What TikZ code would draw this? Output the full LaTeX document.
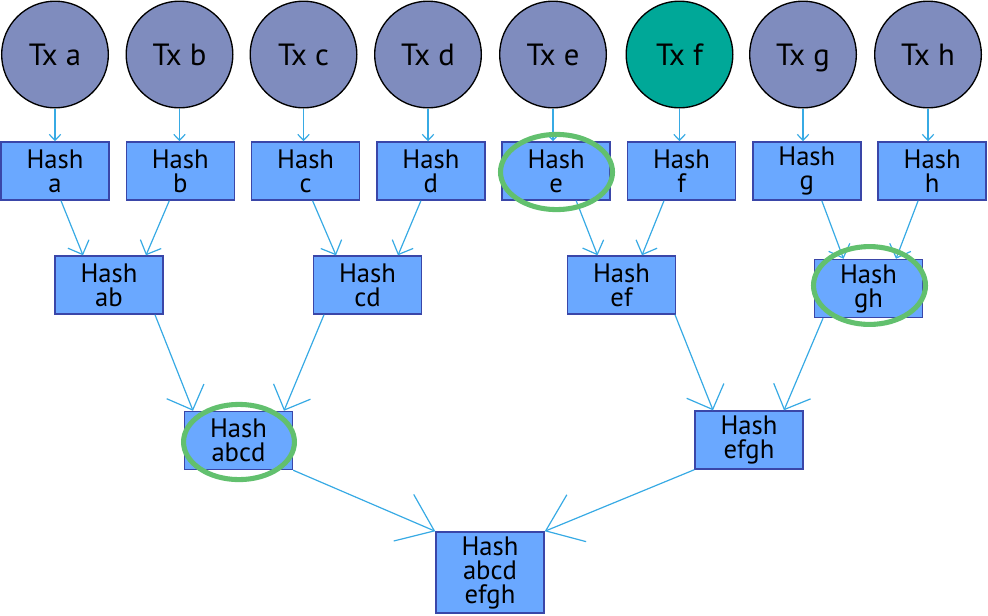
\documentclass[tikz,border=0pt]{standalone}
\usepackage{fontspec}
\setmainfont{PT Sans}
\usetikzlibrary{arrows.meta,calc}
\definecolor{txfill}{RGB}{127,140,190}
\definecolor{txteal}{RGB}{0,168,152}
\definecolor{boxfill}{RGB}{106,168,255}
\definecolor{boxline}{RGB}{58,70,168}
\definecolor{arrcol}{RGB}{55,170,228}
\definecolor{ringcol}{RGB}{98,192,110}
\begin{document}
\begin{tikzpicture}[x=0.75pt,y=-0.75pt,
  txnode/.style={circle,draw=black,line width=1pt,fill=txfill,minimum size=80pt,inner sep=0pt,text height=16pt,text depth=0pt,font=\fontsize{23}{23}\selectfont},
  hbox/.style={rectangle,draw=boxline,line width=1.1pt,fill=boxfill,minimum width=81pt,minimum height=43.5pt,inner sep=0pt,align=center,font=\fontsize{20}{18}\selectfont},
  conn/.style={draw=arrcol,line width=0.9pt},
  head0/.style={conn,-{Straight Barb[length=4.5pt,width=8.5pt]}},
  head1/.style={conn,-{Straight Barb[length=8.5pt,width=17pt]}},
  head2/.style={conn,-{Straight Barb[length=15pt,width=30pt]}},
  head3/.style={conn,-{Straight Barb[length=25pt,width=38pt]}},
  ring/.style={draw=ringcol,line width=3.8pt}]
\useasboundingbox (0,0) rectangle (988,615);
% transactions
\node[txnode] (txa) at (55,54.5) {Tx a};
\node[txnode] (txb) at (179.5,54.5) {Tx b};
\node[txnode] (txc) at (303.5,54.5) {Tx c};
\node[txnode] (txd) at (428,54.5) {Tx d};
\node[txnode] (txe) at (553,54.5) {Tx e};
\node[txnode,fill=txteal] (txf) at (679.5,54.5) {Tx f};
\node[txnode] (txg) at (803,54.5) {Tx g};
\node[txnode] (txh) at (928,54.5) {Tx h};
% leaf hashes
\node[hbox] (ha) at (55,171) {Hash\\a};
\node[hbox] (hb) at (180.3,171) {Hash\\b};
\node[hbox] (hc) at (305.6,171) {Hash\\c};
\node[hbox] (hd) at (430.9,171) {Hash\\d};
\node[hbox] (he) at (556.2,171) {Hash\\e};
\node[hbox] (hf) at (681.5,171) {Hash\\f};
\node[hbox] (hg) at (806.8,171) {Hash\\g};
\node[hbox] (hh) at (932.1,171) {Hash\\h};
% level 2
\node[hbox] (hab) at (109,285) {Hash\\ab};
\node[hbox] (hcd) at (367.5,285) {Hash\\cd};
\node[hbox] (hef) at (621.5,285) {Hash\\ef};
\node[hbox] (hgh) at (868.5,288.5) {Hash\\gh};
% level 3
\node[hbox] (habcd) at (238.5,440.5) {Hash\\abcd};
\node[hbox] (hefgh) at (749,440) {Hash\\efgh};
% root
\node[hbox,minimum height=60.75pt] (root) at (490,572.5) {Hash\\abcd\\efgh};
% tx -> leaf
\foreach \t/\h in {txa/ha,txb/hb,txc/hc,txd/hd,txe/he,txf/hf,txg/hg,txh/hh}
  \draw[head0] (\t.south) -- (\t.south |- \h.north);
% leaf -> level 2
\draw[head1] ($(ha.south)+(6,0)$) -- ($(hab.north)+(-26,0)$);
\draw[head1] ($(hb.south)+(-11,0)$) -- ($(hab.north)+(37,0)$);
\draw[head1] ($(hc.south)+(7,0)$) -- ($(hcd.north)+(-31.5,0)$);
\draw[head1] ($(hd.south)+(-10,0)$) -- ($(hcd.north)+(30.5,0)$);
\draw[head1] ($(he.south)+(20,0)$) -- ($(hef.north)+(-24,0)$);
\draw[head1] ($(hf.south)+(-17.5,0)$) -- ($(hef.north)+(20.5,0)$);
\draw[head1] ($(hg.south)+(15,0)$) -- ($(hgh.north)+(-25,0)$);
\draw[head1] ($(hh.south)+(-14,0)$) -- ($(hgh.north)+(27.5,0)$);
% level 2 -> level 3
\draw[head2] ($(hab.south)+(46,0)$) -- ($(habcd.north)+(-45.5,0)$);
\draw[head2] ($(hcd.south)+(-43.5,0)$) -- ($(habcd.north)+(45.5,0)$);
\draw[head2] ($(hef.south)+(53.5,0)$) -- ($(hefgh.north)+(-36,0)$);
\draw[head2] ($(hgh.south)+(-45.5,0)$) -- ($(hefgh.north)+(35,0)$);
% level 3 -> root
\draw[head3] (habcd.south east) -- (root.north west);
\draw[head3] (hefgh.south west) -- (root.north east);
% highlight rings
\draw[ring] (556.5,172) ellipse [x radius=42pt,y radius=28.2pt];
\draw[ring] (239,442) ellipse [x radius=41.6pt,y radius=28.2pt];
\draw[ring] (869.5,285.5) ellipse [x radius=42pt,y radius=29.2pt];
\end{tikzpicture}
\end{document}
